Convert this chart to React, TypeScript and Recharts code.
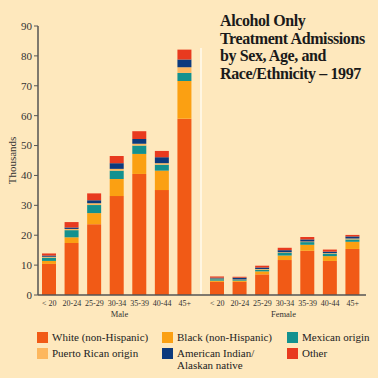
import React from 'react'
import { BarChart, Bar, XAxis, YAxis, Label } from 'recharts'

const ageGroups = ['< 20', '20-24', '25-29', '30-34', '35-39', '40-44', '45+']

// admissions in thousands
const maleWhite = [10.4, 17.4, 23.7, 33.1, 40.5, 35.1, 59.0]
const maleBlack = [1.0, 1.9, 3.7, 5.7, 6.7, 6.5, 12.6]
const maleMexican = [1.1, 2.4, 2.7, 2.8, 2.8, 2.0, 2.7]
const malePuertoRican = [0.3, 0.4, 0.6, 0.6, 0.6, 0.5, 1.9]
const maleAmIndian = [0.4, 0.5, 1.0, 1.9, 1.6, 2.0, 2.6]
const maleOther = [0.7, 1.8, 2.3, 2.4, 2.6, 2.1, 3.3]

const femaleWhite = [4.4, 4.4, 6.9, 11.7, 14.8, 11.4, 15.4]
const femaleBlack = [0.4, 0.4, 1.0, 1.5, 2.0, 1.6, 2.4]
const femaleMexican = [0.5, 0.3, 0.6, 0.9, 0.9, 0.8, 0.8]
const femalePuertoRican = [0.2, 0.1, 0.2, 0.2, 0.2, 0.2, 0.3]
const femaleAmIndian = [0.3, 0.6, 0.5, 0.7, 0.7, 0.5, 0.7]
const femaleOther = [0.4, 0.3, 0.6, 0.8, 0.8, 0.7, 0.5]

const yTicks = [0, 10, 20, 30, 40, 50, 60, 70, 80, 90]

const series = [
    { key: 'white', name: 'White (non-Hispanic)', color: '#F15A16' },
    { key: 'black', name: 'Black (non-Hispanic)', color: '#FBA012' },
    { key: 'mexican', name: 'Mexican origin', color: '#13918F' },
    { key: 'puerto', name: 'Puerto Rican origin', color: '#FDB75E' },
    { key: 'amind', name: 'American Indian/\nAlaskan native', color: '#0C3A7D' },
    { key: 'other', name: 'Other', color: '#E83A1F' },
]

const maleData = ageGroups.map((age, i) => ({
    age,
    white: maleWhite[i],
    black: maleBlack[i],
    mexican: maleMexican[i],
    puerto: malePuertoRican[i],
    amind: maleAmIndian[i],
    other: maleOther[i],
}))

const femaleData = ageGroups.map((age, i) => ({
    age,
    white: femaleWhite[i],
    black: femaleBlack[i],
    mexican: femaleMexican[i],
    puerto: femalePuertoRican[i],
    amind: femaleAmIndian[i],
    other: femaleOther[i],
}))

const serif = '"Liberation Serif", "Times New Roman", serif'
const bg = '#FEE8BD'
const axisColor = '#555'
const textColor = '#333'

const bars = series.map((s) => (
    <Bar
        key={s.key}
        dataKey={s.key}
        stackId='a'
        fill={s.color}
        barSize={14}
        isAnimationActive={false}
    />
))

const App: React.FC = () => {
    return (
        <div
            style={{
                position: 'absolute',
                left: 0,
                top: 0,
                width: 378,
                height: 378,
                background: bg,
                fontFamily: serif,
                overflow: 'hidden',
            }}
        >
            {/* white divider between the two panels */}
            <div
                style={{
                    position: 'absolute',
                    left: 200,
                    top: 48,
                    width: 2,
                    height: 246,
                    background: '#FFF6E2',
                }}
            />

            <div style={{ position: 'absolute', left: 0, top: 0 }}>
                <BarChart
                    width={201}
                    height={378}
                    data={maleData}
                    margin={{ top: 26, right: 0, bottom: 53, left: 0 }}
                >
                    <XAxis
                        dataKey='age'
                        height={30}
                        tickLine={false}
                        tickSize={3}
                        tickMargin={2}
                        padding={{ left: 0, right: 5 }}
                        axisLine={{ stroke: axisColor, strokeWidth: 1.5 }}
                        tick={{ fontSize: 8, fill: textColor, fontFamily: serif }}
                        interval={0}
                    >
                        <Label
                            value='Male'
                            position='insideBottom'
                            offset={8}
                            style={{ fontSize: 8.5, fill: textColor, fontFamily: serif }}
                        />
                    </XAxis>
                    <YAxis
                        width={38}
                        domain={[0, 90]}
                        ticks={yTicks}
                        tickSize={4}
                        tickMargin={2}
                        axisLine={{ stroke: axisColor, strokeWidth: 1.5 }}
                        tickLine={{ stroke: axisColor }}
                        tick={{ fontSize: 11, fill: textColor, fontFamily: serif }}
                    >
                        <Label
                            value='Thousands'
                            angle={-90}
                            position='center'
                            dx={-7}
                            style={{ fontSize: 11, fill: textColor, fontFamily: serif }}
                        />
                    </YAxis>
                    {bars}
                </BarChart>
            </div>

            <div style={{ position: 'absolute', left: 201, top: 0 }}>
                <BarChart
                    width={177}
                    height={378}
                    data={femaleData}
                    margin={{ top: 26, right: 12, bottom: 53, left: 0 }}
                >
                    <XAxis
                        dataKey='age'
                        height={30}
                        tickLine={false}
                        tickSize={3}
                        tickMargin={2}
                        padding={{ left: 5, right: 2 }}
                        axisLine={{ stroke: axisColor, strokeWidth: 1.5 }}
                        tick={{ fontSize: 8, fill: textColor, fontFamily: serif }}
                        interval={0}
                    >
                        <Label
                            value='Female'
                            position='insideBottom'
                            offset={8}
                            style={{ fontSize: 8.5, fill: textColor, fontFamily: serif }}
                        />
                    </XAxis>
                    <YAxis hide domain={[0, 90]} ticks={yTicks} />
                    {bars}
                </BarChart>
            </div>

            <div
                style={{
                    position: 'absolute',
                    left: 220,
                    top: 12,
                    fontSize: 16,
                    lineHeight: '17.6px',
                    fontWeight: 'bold',
                    letterSpacing: -0.4,
                    color: '#1a1a1a',
                }}
            >
                Alcohol Only
                <br />
                Treatment Admissions
                <br />
                by Sex, Age, and
                <br />
                Race/Ethnicity – 1997
            </div>

            {series.map((s, i) => (
                <div
                    key={s.key}
                    style={{
                        position: 'absolute',
                        left: 37 + (i % 3) * 125,
                        top: 331 + Math.floor(i / 3) * 15.5,
                        display: 'flex',
                        alignItems: 'flex-start',
                        fontSize: 11,
                        lineHeight: '12px',
                        color: '#222',
                    }}
                >
                    <div
                        style={{
                            width: 11,
                            height: 11,
                            marginTop: 1,
                            marginRight: 4,
                            background: s.color,
                        }}
                    />
                    <div style={{ whiteSpace: 'pre' }}>{s.name}</div>
                </div>
            ))}
        </div>
    )
}

export default App
